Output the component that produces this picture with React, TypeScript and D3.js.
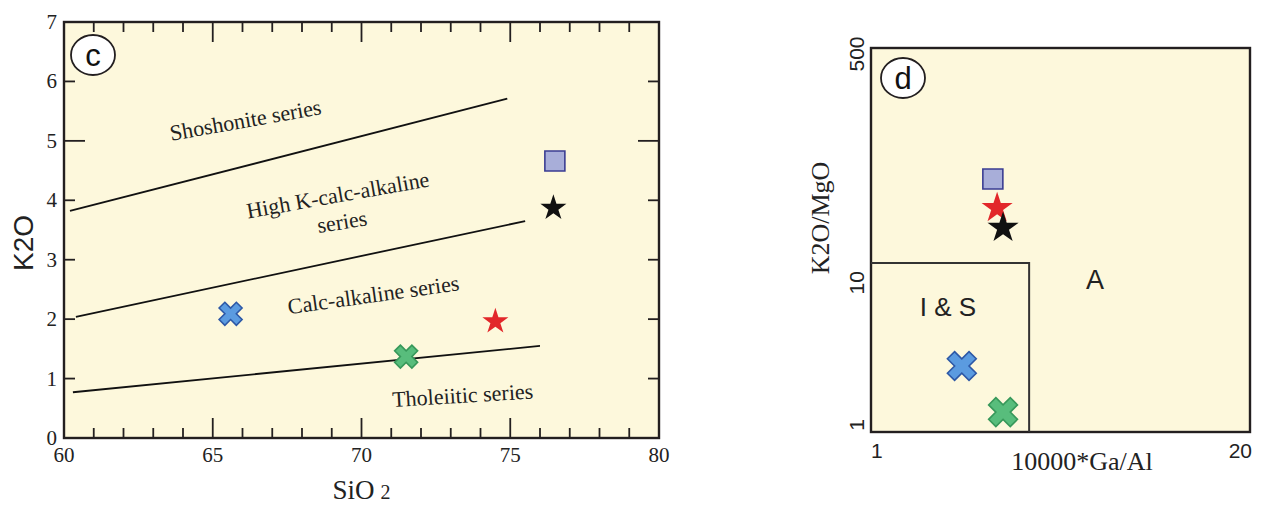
import React from "react";
import * as d3 from "d3";

const W = 1262;
const H = 507;
const BG = "#fdf8dc";
const INK = "#231f20";
const SERIF = "'Liberation Serif', 'Times New Roman', serif";
const SANS = "'Liberation Sans', Arial, sans-serif";

// panel c : SiO2 vs K2O
const sio2Labels = [60, 65, 70, 75, 80];
const k2oLabels = [0, 1, 2, 3, 4, 5, 6, 7];

// series boundaries, [SiO2, K2O] end points
const shoshoniteLine = [[60.2, 3.82], [74.9, 5.71]];
const highKLine = [[60.4, 2.04], [75.5, 3.65]];
const tholeiiteLine = [[60.3, 0.77], [76.0, 1.55]];
const boundaries = [shoshoniteLine, highKLine, tholeiiteLine];

const fieldNames = ["Shoshonite series", "High K-calc-alkaline", "series", "Calc-alkaline series", "Tholeiitic series"];
const fieldSiO2 = [66.1, 69.2, 69.35, 70.4, 73.4];
const fieldK2O = [5.35, 4.09, 3.64, 2.41, 0.72];
const fieldAngle = [-10, -10, -9, -8, -3.5];

// samples (same order in both panels)
const sampleKind = ["blueCross", "greenCross", "redStar", "blackStar", "square"];
const sampleSiO2 = [65.6, 71.5, 74.5, 76.45, 76.5];
const sampleK2O = [2.09, 1.37, 1.96, 3.87, 4.66];

// panel d : 10000*Ga/Al vs K2O/MgO
const gaAlLabels = [1, 20];
const k2oMgoLabels = [1, 10, 500];
const sampleGaAl = [2.05, 2.84, 2.71, 2.84, 2.62];
const sampleK2OMgO = [2.91, 1.38, 37.5, 27.2, 60];
const boxGaAl = 3.49;
const boxK2OMgO = 15.4;

const markerStyle = {
  blueCross: { type: d3.symbolCross, fill: "#5b9be0", stroke: "#2d58a6", rot: 45 },
  greenCross: { type: d3.symbolCross, fill: "#58bd7c", stroke: "#37985a", rot: 45 },
  redStar: { type: d3.symbolStar, fill: "#e2272a", stroke: "none", rot: 0 },
  blackStar: { type: d3.symbolStar, fill: "#111111", stroke: "none", rot: 0 },
  square: { type: d3.symbolSquare, fill: "#a8aed9", stroke: "#3a3d92", rot: 0 },
};

const drawOrder = [0, 1, 4, 2, 3];

function Marker({ kind, x, y, big }) {
  const s = markerStyle[kind];
  let size = 400;
  if (s.type === d3.symbolCross) size = big ? 520 : 330;
  if (s.type === d3.symbolStar) size = big ? 300 : 210;
  const path = d3.symbol().type(s.type).size(size)();
  return (
    <path
      d={path}
      transform={`translate(${x},${y}) rotate(${s.rot})`}
      fill={s.fill}
      stroke={s.stroke}
      strokeWidth={1.6}
    />
  );
}

function PanelC() {
  const x = d3.scaleLinear().domain([60, 80]).range([64, 659]);
  const y = d3.scaleLinear().domain([0, 7]).range([438, 22]);
  const line = d3.line().x((d) => x(d[0])).y((d) => y(d[1]));
  const xMinor = d3.range(61, 80);
  const yMinor = d3.range(1, 7);

  return (
    <g>
      <rect x={x(60)} y={y(7)} width={x(80) - x(60)} height={y(0) - y(7)} fill={BG} />
      {xMinor.map((v) => {
        const len = v % 5 === 0 ? 20 : 10;
        return (
          <g key={"xt" + v} stroke={INK} strokeWidth={1.8}>
            <line x1={x(v)} x2={x(v)} y1={y(0)} y2={y(0) - len} />
            <line x1={x(v)} x2={x(v)} y1={y(7)} y2={y(7) + len} />
          </g>
        );
      })}
      {yMinor.map((v) => {
        const len = v % 5 === 0 ? 21 : 11;
        return (
          <g key={"yt" + v} stroke={INK} strokeWidth={1.8}>
            <line x1={x(60)} x2={x(60) + len} y1={y(v)} y2={y(v)} />
            <line x1={x(80)} x2={x(80) - len} y1={y(v)} y2={y(v)} />
          </g>
        );
      })}
      <rect x={x(60)} y={y(7)} width={x(80) - x(60)} height={y(0) - y(7)} fill="none" stroke={INK} strokeWidth={2.4} />

      {boundaries.map((b, i) => (
        <path key={"b" + i} d={line(b)} fill="none" stroke="#111" strokeWidth={1.8} />
      ))}

      {fieldNames.map((t, i) => (
        <text
          key={t}
          transform={`translate(${x(fieldSiO2[i])},${y(fieldK2O[i])}) rotate(${fieldAngle[i]})`}
          textAnchor="middle"
          dominantBaseline="central"
          fontFamily={SERIF}
          fontSize={22}
          fill="#222"
        >
          {t}
        </text>
      ))}

      {drawOrder.map((i) => (
        <Marker key={"m" + i} kind={sampleKind[i]} x={x(sampleSiO2[i])} y={y(sampleK2O[i])} />
      ))}

      {k2oLabels.map((v) => (
        <text key={"yl" + v} x={57} y={y(v)} textAnchor="end" dominantBaseline="central" fontFamily={SERIF} fontSize={21} fill="#222">
          {v}
        </text>
      ))}
      {sio2Labels.map((v) => (
        <text key={"xl" + v} x={x(v)} y={462} textAnchor="middle" fontFamily={SERIF} fontSize={21} fill="#222">
          {v}
        </text>
      ))}

      <text x={(x(60) + x(80)) / 2} y={499} textAnchor="middle" fontFamily={SERIF} fontSize={27} fill="#222">
        SiO<tspan fontSize={20} dx={6}>2</tspan>
      </text>
      <text transform="translate(33,243) rotate(-90)" textAnchor="middle" fontFamily={SANS} fontSize={28} fill="#222">
        K2O
      </text>

      <ellipse cx={93} cy={55} rx={22} ry={20} fill="#fff" stroke={INK} strokeWidth={1.8} />
      <text x={93} y={55} textAnchor="middle" dominantBaseline="central" fontFamily={SANS} fontSize={31} fill="#111">
        c
      </text>
    </g>
  );
}

function PanelD() {
  const x = d3.scaleLog().domain([1, 20]).range([871, 1250]);
  const y = d3.scaleLog().domain([1, 500]).range([432, 48]);

  return (
    <g>
      <rect x={x(1)} y={y(500)} width={x(20) - x(1)} height={y(1) - y(500)} fill={BG} stroke={INK} strokeWidth={2.4} />
      <path
        d={`M${x(1)},${y(boxK2OMgO)}H${x(boxGaAl)}V${y(1)}`}
        fill="none"
        stroke="#333"
        strokeWidth={2}
      />

      <text x={1095} y={280} textAnchor="middle" dominantBaseline="central" fontFamily={SANS} fontSize={27} fill="#222">
        A
      </text>
      <text x={948} y={307} textAnchor="middle" dominantBaseline="central" fontFamily={SANS} fontSize={26} fill="#222">
        I &amp; S
      </text>

      {drawOrder.map((i) => (
        <Marker key={"m" + i} kind={sampleKind[i]} x={x(sampleGaAl[i])} y={y(sampleK2OMgO[i])} big />
      ))}

      {k2oMgoLabels.map((v) => {
        const nudge = v === 500 ? 6 : -7;
        return (
          <text
            key={"yl" + v}
            transform={`translate(864,${y(v) + nudge}) rotate(-90)`}
            textAnchor="middle"
            fontFamily={SANS}
            fontSize={21}
            fill="#222"
          >
            {v}
          </text>
        );
      })}
      {gaAlLabels.map((v, i) => (
        <text
          key={"xl" + v}
          x={i === 0 ? x(v) : x(v) + 2}
          y={458}
          textAnchor={i === 0 ? "start" : "end"}
          fontFamily={SANS}
          fontSize={21}
          fill="#222"
        >
          {v}
        </text>
      ))}

      <text x={1082} y={470} textAnchor="middle" fontFamily={SERIF} fontSize={26} fill="#222">
        10000*Ga/Al
      </text>
      <text transform="translate(829,218) rotate(-90)" textAnchor="middle" fontFamily={SERIF} fontSize={26} fill="#222">
        K2O/MgO
      </text>

      <ellipse cx={903} cy={78} rx={22} ry={20} fill="#fff" stroke={INK} strokeWidth={1.8} />
      <text x={903} y={78} textAnchor="middle" dominantBaseline="central" fontFamily={SANS} fontSize={31} fill="#111">
        d
      </text>
    </g>
  );
}

export default function App() {
  return (
    <svg
      width={W}
      height={H}
      style={{ position: "absolute", left: 0, top: 0, background: "#fff" }}
    >
      <PanelC />
      <PanelD />
    </svg>
  );
}
